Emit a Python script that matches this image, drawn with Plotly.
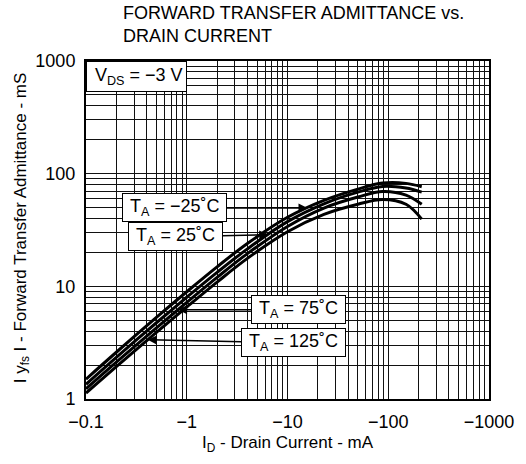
import numpy as np
import plotly.graph_objects as go

# ---------------- data ----------------
drain_current_mA = [0.1, 0.2, 0.5, 1, 2, 4, 10, 23, 50, 88, 150, 215]   # |ID| in mA (axis shown negative)
yfs_m25 = [1.50, 2.60, 5.30, 8.95, 14.9, 24.0, 41.0, 58.0, 73.0, 82.5, 82.0, 76.5]
yfs_25 = [1.35, 2.34, 4.75, 8.0, 13.3, 21.5, 37.5, 54.0, 68.5, 77.0, 74.5, 68.5]
yfs_75 = [1.23, 2.12, 4.28, 7.2, 12.0, 19.5, 34.0, 49.5, 62.0, 69.5, 64.5, 53.5]
yfs_125 = [1.13, 1.94, 3.90, 6.55, 10.9, 17.7, 30.5, 43.5, 53.5, 59.0, 53.5, 39.5]

series_names = ["TA = \u221225\u02daC", "TA = 25\u02daC", "TA = 75\u02daC", "TA = 125\u02daC"]
NB = "\u00a0"
label_texts = [NB + "T<sub>A</sub> = \u221225\u02daC" + NB, NB + "T<sub>A</sub> = 25\u02daC" + NB,
               NB + "T<sub>A</sub> = 75\u02daC" + NB, NB + "T<sub>A</sub> = 125\u02daC" + NB]
series_values = [yfs_m25, yfs_25, yfs_75, yfs_125]
arrow_at_current = [15.8, 6.44, 0.82, 0.41]     # where each label's arrow touches its curve

x_tick_vals = [0.1, 1, 10, 100, 1000]
x_tick_text = ["\u22120.1", "\u22121", "\u221210", "\u2212100", "\u22121000"]
y_tick_vals = [1, 10, 100, 1000]
y_tick_text = ["1", "10", "100", "1000"]

title_lines = ["FORWARD TRANSFER ADMITTANCE vs.", "DRAIN CURRENT"]
x_title = "I<sub>D</sub> - Drain Current - mA"
y_title = "I y<sub>fs</sub> I - Forward Transfer Admittance - mS"
vds_text = NB + "V<sub>DS</sub> = \u22123 V"

# ---------------- figure ----------------
FONT = "Liberation Sans, Arial, Helvetica, sans-serif"
fig = go.Figure()
for name, vals in zip(series_names, series_values):
    fig.add_trace(go.Scatter(x=drain_current_mA, y=vals, mode="lines", name=name,
                             line=dict(color="black", width=3, shape="spline", smoothing=1.0),
                             showlegend=False, hoverinfo="skip"))

minor_x = [m * 10.0 ** k for k in range(-1, 3) for m in range(2, 10)]
minor_y = [m * 10.0 ** k for k in range(0, 3) for m in range(2, 10)]

grid_col = "#111111"
fig.update_xaxes(type="log", range=[-1, 3], tickvals=x_tick_vals, ticktext=x_tick_text,
                 showgrid=True, gridcolor=grid_col, gridwidth=1,
                 minor=dict(tickvals=minor_x, showgrid=True, gridcolor=grid_col, gridwidth=1, ticks=""),
                 showline=True, linecolor="black", linewidth=2, mirror=True, ticks="",
                 ticklabelstandoff=5,
                 zeroline=False, tickfont=dict(size=18, color="black", family=FONT))
fig.update_yaxes(type="log", range=[0, 3], tickvals=y_tick_vals, ticktext=y_tick_text,
                 showgrid=True, gridcolor=grid_col, gridwidth=1,
                 minor=dict(tickvals=minor_y, showgrid=True, gridcolor=grid_col, gridwidth=1, ticks=""),
                 showline=True, linecolor="black", linewidth=2, mirror=True, ticks="",
                 ticklabelstandoff=5,
                 zeroline=False, tickfont=dict(size=18, color="black", family=FONT))

annotations = []
# labelled arrows
label_offsets = [(-133, 0), (-93, 2), (120, 0), (146, 3)]
for txt, vals, xc, (ax, ay) in zip(label_texts, series_values, arrow_at_current, label_offsets):
    yc = 10 ** np.interp(np.log10(xc), np.log10(drain_current_mA), np.log10(vals))
    annotations.append(dict(x=np.log10(xc), y=np.log10(yc), xref="x", yref="y",
                            text=txt, showarrow=True, ax=ax, ay=ay, axref="pixel", ayref="pixel",
                            arrowhead=2, arrowsize=1.2, arrowwidth=1.5, arrowcolor="black",
                            standoff=0, bgcolor="white", bordercolor="black", borderwidth=1,
                            borderpad=2, font=dict(size=18, color="black", family=FONT)))
# VDS box
annotations.append(dict(x=0, y=1, xref="paper", yref="paper", xanchor="left", yanchor="top",
                        text=vds_text, showarrow=False, bgcolor="white", bordercolor="black",
                        borderwidth=1, borderpad=3, font=dict(size=18, color="black", family=FONT)))
# title lines
for i, line in enumerate(title_lines):
    annotations.append(dict(x=(122 - 86.5) / 412.5, y=(398.5 - (13 + 23 * i)) / 337.5,
                            xref="paper", yref="paper", xanchor="left", yanchor="middle",
                            text=line, showarrow=False,
                            font=dict(size=18, color="black", family=FONT)))
# axis titles
annotations.append(dict(x=0.502, y=(398.5 - 443) / 337.5, xref="paper", yref="paper",
                        xanchor="center", yanchor="middle", text=x_title, showarrow=False,
                        font=dict(size=17, color="black", family=FONT)))
annotations.append(dict(x=(21 - 86.5) / 412.5, y=0.505, xref="paper", yref="paper",
                        xanchor="center", yanchor="middle", text=y_title, showarrow=False,
                        textangle=-90, font=dict(size=17, color="black", family=FONT)))

fig.update_layout(width=526, height=464, margin=dict(l=86, r=27, t=61, b=65),
                  paper_bgcolor="white", plot_bgcolor="white",
                  annotations=annotations, font=dict(family=FONT, color="black"))

fig.write_html("out.html", config={"displayModeBar": False},
               post_script="document.body.style.margin='0';document.body.style.padding='0';")
